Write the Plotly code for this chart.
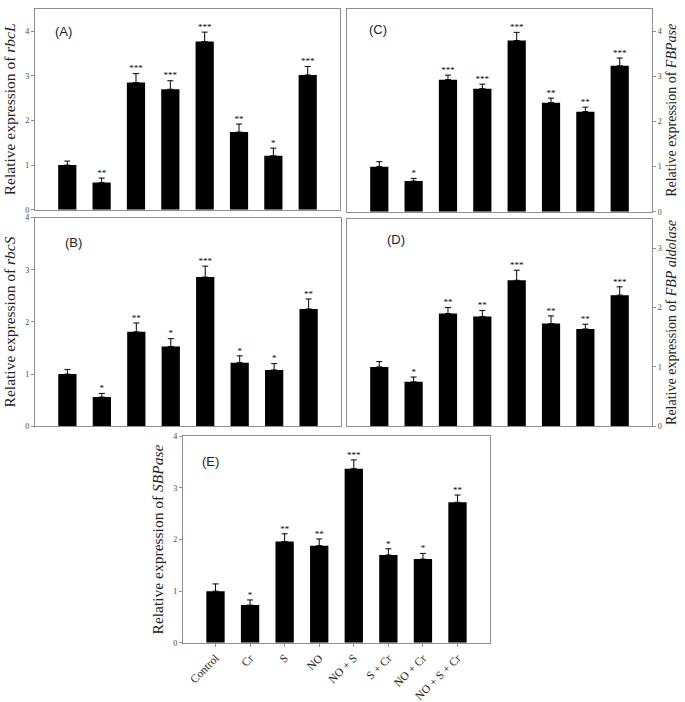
import plotly.graph_objects as go

categories = ["Control", "Cr", "S", "NO", "NO + S", "S + Cr", "NO + Cr", "NO + S + Cr"]

rbcL = [1.00, 0.61, 2.85, 2.70, 3.77, 1.74, 1.21, 3.02]
rbcL_err = [0.09, 0.10, 0.20, 0.19, 0.21, 0.18, 0.17, 0.19]
rbcL_sig = ["", "**", "***", "***", "***", "**", "*", "***"]

rbcS = [1.00, 0.56, 1.81, 1.53, 2.86, 1.22, 1.08, 2.25]
rbcS_err = [0.09, 0.07, 0.17, 0.15, 0.21, 0.13, 0.12, 0.19]
rbcS_sig = ["", "*", "**", "*", "***", "*", "*", "**"]

FBPase = [1.00, 0.68, 2.93, 2.73, 3.80, 2.42, 2.22, 3.24]
FBPase_err = [0.11, 0.06, 0.10, 0.10, 0.18, 0.10, 0.10, 0.17]
FBPase_sig = ["", "*", "***", "***", "***", "**", "**", "***"]

FBPald = [1.00, 0.75, 1.90, 1.85, 2.46, 1.73, 1.64, 2.21]
FBPald_err = [0.09, 0.08, 0.10, 0.10, 0.17, 0.13, 0.08, 0.14]
FBPald_sig = ["", "*", "**", "**", "***", "**", "**", "***"]

SBPase = [1.00, 0.73, 1.96, 1.88, 3.37, 1.70, 1.62, 2.72]
SBPase_err = [0.14, 0.10, 0.15, 0.13, 0.17, 0.12, 0.11, 0.14]
SBPase_sig = ["", "*", "**", "**", "***", "*", "*", "**"]

W, H = 685, 702

panels = [
    ("A", rbcL, rbcL_err, rbcL_sig, "rbcL", (35, 340, 5, 209), 4.5, "left", False),
    ("C", FBPase, FBPase_err, FBPase_sig, "FBPase", (347, 652, 5, 211), 4.5, "right", False),
    ("B", rbcS, rbcS_err, rbcS_sig, "rbcS", (35, 341, 217, 429), 4.0, "left", False),
    ("D", FBPald, FBPald_err, FBPald_sig, "FBP aldolase", (347, 652, 218, 429), 3.5, "right", False),
    ("E", SBPase, SBPase_err, SBPase_sig, "SBPase", (183, 490, 439, 649), 4.0, "left", True),
]
label_pos = {"A": (0.06, 0.89), "C": (0.066, 0.90), "B": (0.09, 0.88), "D": (0.125, 0.90), "E": (0.055, 0.876)}

fig = go.Figure()
frame_col = "#8e8e8e"
serif = "Liberation Serif, Times New Roman, serif"

for i, (name, vals, errs, sig, gene, box, ymax, side, showx) in enumerate(panels, start=1):
    xa = "x" if i == 1 else f"x{i}"
    ya = "y" if i == 1 else f"y{i}"
    xs = list(range(len(categories)))
    fig.add_trace(go.Bar(
        x=xs, y=vals, width=0.53, marker=dict(color="black", line=dict(width=0)),
        error_y=dict(type="data", array=errs, arrayminus=[0] * len(errs), symmetric=False,
                     color="black", thickness=1, width=3),
        xaxis=xa, yaxis=ya, showlegend=False, hoverinfo="skip"))
    fig.add_trace(go.Scatter(
        x=xs, y=[v + e for v, e in zip(vals, errs)], mode="text", text=sig,
        textposition="top center", textfont=dict(size=9, color="black", family=serif),
        xaxis=xa, yaxis=ya, showlegend=False, hoverinfo="skip"))

    x0, x1, yt, yb = box
    xkey = "xaxis" if i == 1 else f"xaxis{i}"
    ykey = "yaxis" if i == 1 else f"yaxis{i}"
    tsize = 15.5 if side == "left" else 14
    fig.layout[xkey] = dict(
        domain=[x0 / W, x1 / W], anchor=ya, range=[-0.94, 7.94],
        tickmode="array", tickvals=xs, ticktext=categories,
        showticklabels=showx, ticks="outside" if showx else "", ticklen=3, tickcolor=frame_col,
        tickangle=-45, tickfont=dict(family=serif, size=11.5, color="#222"),
        showline=True, linecolor=frame_col, linewidth=1.2, mirror=True,
        showgrid=False, zeroline=False, fixedrange=True)
    fig.layout[ykey] = dict(
        domain=[1 - yb / H, 1 - yt / H], anchor=xa, range=[0, ymax], side=side,
        tickmode="linear", tick0=0, dtick=1, ticks="outside", ticklen=3, tickcolor=frame_col,
        tickfont=dict(family=serif, size=8, color="#444"),
        title=dict(text=f"Relative expression of <i>{gene}</i>", font=dict(family=serif, size=tsize, color="#222"),
                   standoff=5),
        showline=True, linecolor=frame_col, linewidth=1.2, mirror=True,
        showgrid=False, zeroline=False, fixedrange=True)
    lx, ly = label_pos[name]
    fig.add_annotation(text=f"({name})", xref=f"{xa} domain", yref=f"{ya} domain", x=lx, y=ly,
                       xanchor="left", yanchor="middle", showarrow=False,
                       font=dict(family="Liberation Sans, Arial, sans-serif", size=13, color="#222"))

fig.update_layout(width=W, height=H, margin=dict(l=0, r=0, t=0, b=0),
                  paper_bgcolor="white", plot_bgcolor="white", bargap=0.47)

fig.write_html("out.html", config={"displayModeBar": False},
               post_script="document.body.style.margin='0';")
